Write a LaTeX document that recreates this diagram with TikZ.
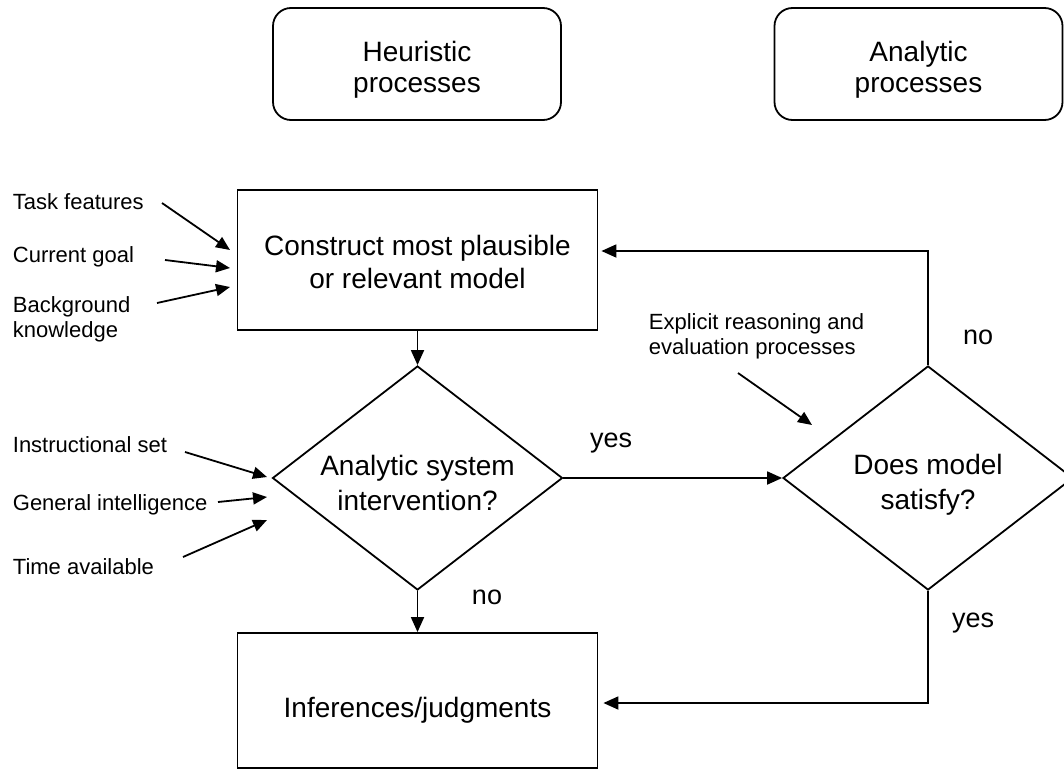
\documentclass[tikz,border=0pt]{standalone}
\usepackage{fontspec}
\setmainfont{Liberation Sans}
\usetikzlibrary{shapes.geometric,arrows.meta}
\newcommand{\topstrut}[1]{\rule{0pt}{#1}}
\begin{document}
\begin{tikzpicture}[x=1pt,y=-1pt,
  line width=1.8pt,
  arr/.style={-{Triangle[length=15pt,width=13pt]}},
  inarr/.style={-{Triangle[length=14pt,width=12pt]},line width=1.8pt},
  headbox/.style={draw,rounded corners=18pt,minimum width=288pt,minimum height=112pt,align=center,font=\fontsize{28}{31}\selectfont},
  mainbox/.style={draw,minimum width=360pt,align=center,font=\fontsize{28}{33}\selectfont},
  decision/.style={draw,shape=diamond,minimum width=290pt,minimum height=224pt,inner sep=0pt,aspect=1.295,align=center,font=\fontsize{28}{35}\selectfont},
  side/.style={anchor=west,align=left,inner sep=0pt,font=\fontsize{22}{25}\selectfont},
  lab/.style={inner sep=0pt,font=\fontsize{27}{30}\selectfont}
]
\useasboundingbox (0,0) rectangle (1064,770);

% header boxes
\node[headbox] (heur) at (417,64) {\topstrut{31pt}Heuristic\\processes};
\node[headbox] (anal) at (918.5,64) {\topstrut{31pt}Analytic\\processes};

% main boxes
\node[mainbox,minimum height=140pt] (cons) at (417.5,260) {\topstrut{24pt}Construct most plausible\\or relevant model};
\node[mainbox,minimum height=135pt,text height=40pt,text depth=7pt] (inf) at (417.5,700.5) {Inferences/judgments};

% decisions
\node[decision] (asi) at (417.5,478) {\topstrut{31pt}Analytic system\\intervention?};
\node[decision] (dms) at (928,478) {\topstrut{33pt}Does model\\satisfy?};

% side labels
\node[side] (tf) at (12,202) {Task features};
\node[side] (cg) at (12,257) {Current goal};
\node[side] (bk) at (12,319.5) {Background\\knowledge};
\node[side] (is) at (12,445) {Instructional set};
\node[side] (gi) at (12,505) {General intelligence};
\node[side] (ta) at (12,567) {Time available};
\node[side] (ex) at (648,336.5) {Explicit reasoning and\\evaluation processes};

% yes/no labels
\node[lab] (y1) at (611,443) {yes};
\node[lab] (n1) at (487,597) {no};
\node[lab] (n2) at (978,337) {no};
\node[lab] (y2) at (973,623) {yes};

% free ends of input arrows
\coordinate (tfs) at (162,203);
\coordinate (cgs) at (165,260);
\coordinate (bks) at (157,303);
\coordinate (tfe) at (230,250);
\coordinate (cge) at (230,268);
\coordinate (bke) at (230,287);
\coordinate (iss) at (185,452);
\coordinate (gis) at (218,502);
\coordinate (tas) at (183,557);
\coordinate (ise) at (267,477);
\coordinate (gie) at (267,497);
\coordinate (tae) at (267,520);
\coordinate (exs) at (738,373);
\coordinate (exe) at (812,425);

\draw[inarr] (tfs) -- (tfe);
\draw[inarr] (cgs) -- (cge);
\draw[inarr] (bks) -- (bke);
\draw[inarr] (iss) -- (ise);
\draw[inarr] (gis) -- (gie);
\draw[inarr] (tas) -- (tae);
\draw[inarr] (exs) -- (exe);

% flow
\draw[arr] (cons.south) -- (asi.north);
\draw[arr] (asi.south) -- (inf.north);
\draw[arr] (asi.east) -- (dms.west);
\draw[arr,shorten >=3pt] (dms.north) |- ([yshift=9pt]cons.east);
\draw[arr,shorten >=5pt] (dms.south) |- ([yshift=-2.5pt]inf.east);
\end{tikzpicture}
\end{document}
